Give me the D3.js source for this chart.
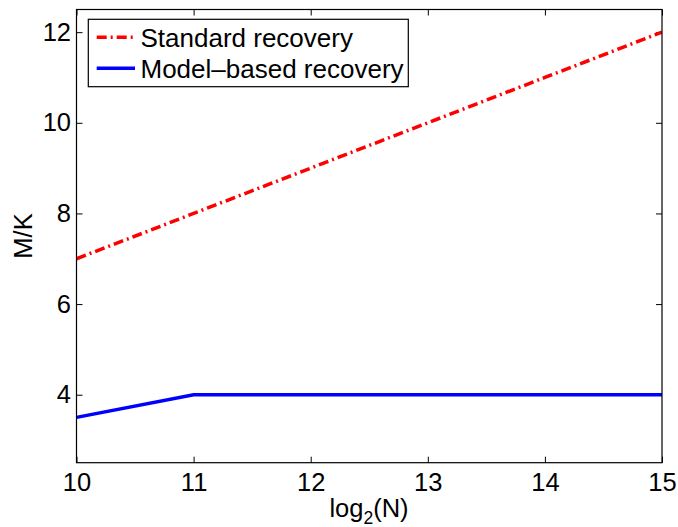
<!DOCTYPE html>
<html>
<head>
<meta charset="utf-8">
<script src="https://cdn.jsdelivr.net/npm/d3@7/dist/d3.min.js"></script>
<style>
  html, body { margin: 0; padding: 0; background: #fff; }
  svg { display: block; }
  text { font-family: "Liberation Sans", Arial, Helvetica, sans-serif; fill: #000; }
</style>
</head>
<body>
<script>
// ---- data ----
const xValues = [10, 11, 12, 13, 14, 15];
const standardValues = [7, 8, 9, 10, 11, 12];
const modelValues = [3.5, 4, 4, 4, 4, 4];
const seriesNames = ["Standard recovery", "Model\u2013based recovery"];
const xTicks = [10, 11, 12, 13, 14, 15];
const yTicks = [4, 6, 8, 10, 12];
const xDomain = [10, 15];
const yDomain = [2.5, 12.5];

// ---- layout ----
const W = 678, H = 527;
const L = 76.5, R = 662, T = 9.5, B = 462.7;
const FS = 25.5;
const LFS = 26;

const svg = d3.select("body").append("svg").attr("width", W).attr("height", H);

const x = d3.scaleLinear().domain(xDomain).range([L, R]);
const y = d3.scaleLinear().domain(yDomain).range([B, T]);

svg.append("rect").attr("x", L).attr("y", T).attr("width", R - L).attr("height", B - T)
  .attr("fill", "#fff").attr("stroke", "none");

function styleAxis(g, showText) {
  g.select(".domain").remove();
  g.selectAll(".tick line").attr("stroke", "#000").attr("stroke-width", 1);
  g.selectAll(".tick text").attr("font-size", FS).attr("font-family", "Liberation Sans, Arial, sans-serif")
    .attr("fill", "#000");
  if (!showText) g.selectAll(".tick text").remove();
}

svg.append("g").attr("transform", `translate(0,${B})`)
  .call(d3.axisBottom(x).tickValues(xTicks).tickFormat(d3.format("d")).tickSizeInner(-6).tickSizeOuter(0).tickPadding(10))
  .call(g => styleAxis(g, true));
svg.append("g").attr("transform", `translate(0,${T})`)
  .call(d3.axisTop(x).tickValues(xTicks).tickSizeInner(-6).tickSizeOuter(0))
  .call(g => styleAxis(g, false));
svg.append("g").attr("transform", `translate(${L},0)`)
  .call(d3.axisLeft(y).tickValues(yTicks).tickFormat(d3.format("d")).tickSizeInner(-6).tickSizeOuter(0).tickPadding(5.5))
  .call(g => styleAxis(g, true));
svg.append("g").attr("transform", `translate(${R},0)`)
  .call(d3.axisRight(y).tickValues(yTicks).tickSizeInner(-6).tickSizeOuter(0))
  .call(g => styleAxis(g, false));

svg.append("clipPath").attr("id", "clip").append("rect")
  .attr("x", L).attr("y", T).attr("width", R - L).attr("height", B - T);

const line = d3.line().x(d => x(d[0])).y(d => y(d[1]));
const stdData = xValues.map((v, i) => [v, standardValues[i]]);
const modData = xValues.map((v, i) => [v, modelValues[i]]);

const plot = svg.append("g").attr("clip-path", "url(#clip)");
plot.append("path").datum(stdData).attr("d", line)
  .attr("fill", "none").attr("stroke", "#ff0000").attr("stroke-width", 3.5)
  .attr("stroke-dasharray", "10,4,2,4");
plot.append("path").datum(modData).attr("d", line)
  .attr("fill", "none").attr("stroke", "#0000ff").attr("stroke-width", 3.5);

svg.append("rect").attr("x", L).attr("y", T).attr("width", R - L).attr("height", B - T)
  .attr("fill", "none").attr("stroke", "#000").attr("stroke-width", 1.2);

// legend
const lg = svg.append("g");
lg.append("rect").attr("x", 88.3).attr("y", 19.3).attr("width", 320).attr("height", 67.4)
  .attr("fill", "#fff").attr("stroke", "#000").attr("stroke-width", 1.2);
const rows = [
  { name: seriesNames[0], color: "#ff0000", dash: "10,4,2,4", w: 3.5, cy: 37.3 },
  { name: seriesNames[1], color: "#0000ff", dash: null, w: 3.5, cy: 68.3 }
];
rows.forEach(r => {
  lg.append("line").attr("x1", 96.7).attr("x2", 135).attr("y1", r.cy).attr("y2", r.cy)
    .attr("stroke", r.color).attr("stroke-width", r.w)
    .attr("stroke-dasharray", r.dash);
  lg.append("text").attr("x", 140.5).attr("y", r.cy + 9.4).attr("font-size", LFS).text(r.name);
});

// axis labels
const xl = svg.append("text").attr("x", 369).attr("y", 516.5).attr("text-anchor", "middle").attr("font-size", FS);
xl.append("tspan").text("log");
xl.append("tspan").attr("font-size", 17.5).attr("dy", 7).text("2");
xl.append("tspan").attr("dy", -7).text("(N)");

svg.append("text").attr("transform", `translate(32,236) rotate(-90)`)
  .attr("text-anchor", "middle").attr("font-size", FS).text("M/K");
</script>
</body>
</html>
